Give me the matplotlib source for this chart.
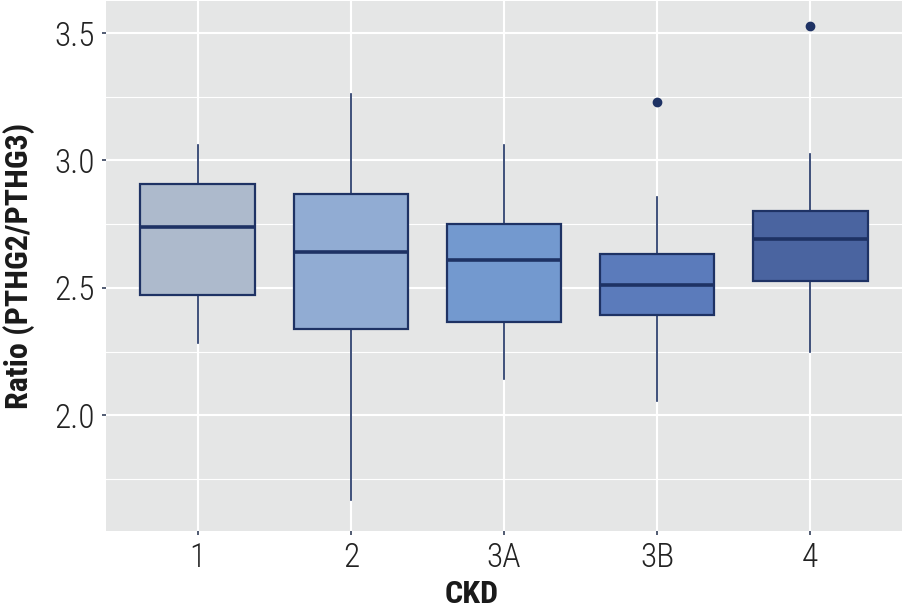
import matplotlib
matplotlib.use('Agg')
import matplotlib.pyplot as plt
from matplotlib import font_manager as fm
from matplotlib.ticker import MultipleLocator

# pick a condensed face if one is installed
fonts = fm.fontManager.ttflist
names = {f.name for f in fonts}
family, stretch = 'DejaVu Sans', 'normal'
for n in ['Roboto Condensed', 'Liberation Sans Narrow', 'Noto Sans Condensed',
          'DejaVu Sans Condensed', 'Open Sans Condensed']:
    if n in names:
        family = n
        break
else:
    for n in ['Roboto', 'Noto Sans', 'Open Sans', 'DejaVu Sans']:
        if any(f.name == n and f.stretch in ('condensed', 'semi-condensed', 500, 300)
               for f in fonts):
            family, stretch = n, 'condensed'
            break
plt.rcParams['font.family'] = [family, 'DejaVu Sans']
plt.rcParams['font.stretch'] = stretch
condensed = family != 'DejaVu Sans' or stretch != 'normal'

# summary stats
groups   = ['1', '2', '3A', '3B', '4']
whislo   = [2.282, 1.667, 2.141, 2.055, 2.247]
q1       = [2.474, 2.337, 2.365, 2.392, 2.529]
med      = [2.740, 2.639, 2.611, 2.513, 2.693]
q3       = [2.909, 2.870, 2.752, 2.635, 2.803]
whishi   = [3.061, 3.261, 3.061, 2.858, 3.026]
outliers = [[], [], [], [3.230], [3.527]]

FILLS = ['#ADBACC', '#91ACD3', '#7399CF', '#5B7BBB', '#4A64A0']
EDGE = '#1E3264'

stats = []
for i, g in enumerate(groups):
    stats.append(dict(label=g, whislo=whislo[i], q1=q1[i], med=med[i],
                      q3=q3[i], whishi=whishi[i], fliers=outliers[i]))

fig = plt.figure(figsize=(9.02, 6.08), dpi=100)
ax = fig.add_axes([0.1175, 0.1266, 0.8825, 0.8714])
ax.set_facecolor('#E5E6E6')

pos = list(range(1, len(groups) + 1))
bp = ax.bxp(stats, positions=pos, widths=0.75, patch_artist=True,
            showcaps=False,
            boxprops=dict(edgecolor=EDGE, linewidth=1.6),
            medianprops=dict(color=EDGE, linewidth=2.6),
            whiskerprops=dict(color=EDGE, linewidth=1.2),
            flierprops=dict(marker='o', markerfacecolor=EDGE,
                            markeredgecolor=EDGE, markersize=6))
for patch, c in zip(bp['boxes'], FILLS):
    patch.set_facecolor(c)
for art in bp['boxes'] + bp['medians'] + bp['whiskers'] + bp['fliers']:
    art.set_zorder(3)

ax.set_xlim(0.4, 5.6)
ax.set_ylim(1.546, 3.625)
ax.yaxis.set_minor_locator(MultipleLocator(0.25))
ax.set_yticks([2.0, 2.5, 3.0, 3.5])
ax.set_yticklabels(['2.0', '2.5', '3.0', '3.5'])

ax.grid(which='major', color='white', linewidth=1.5, zorder=0)
ax.grid(which='minor', axis='y', color='white', linewidth=0.8, zorder=0)
ax.set_axisbelow(True)
for s in ax.spines.values():
    s.set_visible(False)

tsize = 24 if condensed else 18
lsize = 23 if condensed else 17
ax.tick_params(axis='both', which='major', length=3, width=1.2,
               color='#34405A', labelsize=tsize, labelcolor='#222222', pad=5)
ax.tick_params(axis='y', which='minor', length=0)
for lab in ax.get_xticklabels() + ax.get_yticklabels():
    lab.set_fontweight('light')

ax.set_xlabel('CKD', fontsize=lsize, fontweight='bold', color='#1A1A1A')
ax.xaxis.set_label_coords(0.459, -0.09)
ax.set_ylabel('Ratio (PTHG2/PTHG3)', fontsize=lsize, fontweight='bold',
              color='#1A1A1A', labelpad=14)

plt.savefig('out.png', dpi=100)
